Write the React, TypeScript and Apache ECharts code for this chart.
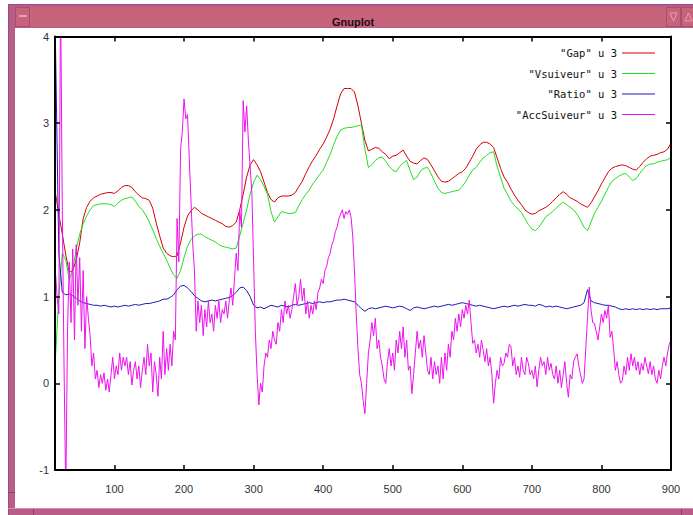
import React, { useEffect, useRef } from "react";
import * as echarts from "echarts";

// Sampling grids: x = X_START + i * step
const X_START = 15;
const X_STEP = 5;
const ACC_STEP = 2.5;

const xTickValues = [100, 200, 300, 400, 500, 600, 700, 800, 900];

const gapValues = [
  2.2, 1.95, 1.72, 1.48, 1.28, 1.3, 1.42, 1.62, 1.9, 2.03,
  2.1, 2.14, 2.16, 2.18, 2.19, 2.2, 2.2, 2.19, 2.22, 2.26,
  2.28, 2.28, 2.26, 2.21, 2.17, 2.14, 2.13, 2.11, 2.02, 1.85,
  1.7, 1.56, 1.5, 1.47, 1.46, 1.47, 1.62, 1.8, 1.93, 1.99,
  2.03, 2.0, 1.96, 1.94, 1.92, 1.9, 1.88, 1.86, 1.84, 1.81,
  1.8, 1.82, 1.86, 2.0, 2.18, 2.38, 2.52, 2.58, 2.52, 2.44,
  2.32, 2.2, 2.12, 2.09, 2.14, 2.16, 2.16, 2.16, 2.17, 2.2,
  2.27, 2.33, 2.42, 2.5, 2.57, 2.63, 2.7, 2.76, 2.84, 2.93,
  3.05, 3.2, 3.34, 3.4, 3.4, 3.4, 3.36, 3.2, 3.0, 2.8,
  2.68, 2.7, 2.72, 2.71, 2.67, 2.64, 2.59, 2.62, 2.63, 2.66,
  2.69, 2.62, 2.56, 2.54, 2.53, 2.57, 2.6, 2.58, 2.52, 2.45,
  2.38, 2.33, 2.32, 2.33, 2.36, 2.39, 2.42, 2.44, 2.48, 2.55,
  2.62, 2.7, 2.75, 2.78, 2.78, 2.76, 2.72, 2.6, 2.48, 2.38,
  2.32, 2.24, 2.17, 2.11, 2.06, 2.0, 1.97, 1.95, 1.96, 1.99,
  2.01, 2.03, 2.06, 2.1, 2.14, 2.18, 2.21, 2.18, 2.14, 2.12,
  2.1, 2.07, 2.05, 2.03, 2.08, 2.15, 2.22, 2.3, 2.37, 2.44,
  2.48, 2.5, 2.51, 2.52, 2.51, 2.49, 2.47, 2.46, 2.5, 2.55,
  2.59, 2.62, 2.63, 2.64, 2.66, 2.67, 2.7, 2.77,
];

const vsuiveurValues = [
  0.27, 1.0, 1.5, 1.42, 1.2, 1.3, 1.55, 1.72, 1.84, 1.93,
  2.0, 2.05, 2.06, 2.07, 2.07, 2.07, 2.06, 2.04, 2.08, 2.11,
  2.13, 2.14, 2.15, 2.1, 2.04, 2.0, 1.94, 1.86, 1.77, 1.67,
  1.58, 1.5, 1.42, 1.33, 1.25, 1.21, 1.3, 1.45, 1.58, 1.66,
  1.7, 1.72, 1.72, 1.69, 1.67, 1.65, 1.63, 1.6, 1.58, 1.57,
  1.56, 1.55, 1.56, 1.7, 1.85, 2.0, 2.18, 2.32, 2.4, 2.35,
  2.27, 2.18, 1.98, 1.86, 1.92, 1.98, 1.97, 1.96, 1.96, 1.97,
  2.05, 2.12, 2.18, 2.23, 2.3, 2.35, 2.41, 2.46, 2.55, 2.64,
  2.75, 2.85, 2.92, 2.94, 2.95, 2.95, 2.96, 2.97, 2.98, 2.7,
  2.49, 2.52, 2.57, 2.6, 2.61, 2.56, 2.5, 2.46, 2.44, 2.5,
  2.54, 2.57, 2.45, 2.35, 2.38, 2.45, 2.48, 2.49, 2.42, 2.33,
  2.25, 2.2, 2.19, 2.2, 2.21, 2.22, 2.23, 2.27, 2.33, 2.4,
  2.46, 2.49, 2.55, 2.6, 2.63, 2.66, 2.67, 2.5, 2.38, 2.25,
  2.18, 2.1, 2.05, 2.01, 1.97, 1.9, 1.83, 1.78, 1.76, 1.8,
  1.86, 1.92, 1.95, 1.98, 2.02, 2.06, 2.09, 2.06, 2.03, 2.0,
  1.95, 1.88, 1.8, 1.76, 1.86, 1.96, 2.03, 2.1, 2.18, 2.26,
  2.33, 2.36, 2.39, 2.41, 2.42, 2.38, 2.34, 2.36, 2.42, 2.47,
  2.51, 2.53, 2.53, 2.55, 2.56, 2.57, 2.58, 2.6,
];

const ratioValues = [
  4.0, 1.5, 1.05, 1.02, 1.03, 1.01, 0.98, 0.95, 0.93, 0.92,
  0.91, 0.9, 0.9, 0.89, 0.9, 0.89, 0.88, 0.89, 0.88, 0.89,
  0.9, 0.89, 0.9, 0.91, 0.9, 0.91, 0.92, 0.92, 0.93, 0.94,
  0.95, 0.97, 0.97, 0.99, 1.02, 1.08, 1.12, 1.13, 1.1, 1.06,
  1.01, 0.98, 0.95, 0.94, 0.95, 0.96, 0.95, 0.96, 0.97, 0.98,
  0.99, 1.01, 1.05, 1.1, 1.11, 1.07, 1.0, 0.9, 0.87, 0.88,
  0.86, 0.88, 0.9, 0.89, 0.88, 0.9, 0.89, 0.88, 0.9, 0.91,
  0.9, 0.91, 0.92, 0.93, 0.92, 0.93, 0.94, 0.93, 0.94, 0.94,
  0.95, 0.96, 0.96, 0.97, 0.96, 0.95, 0.94, 0.9, 0.86, 0.83,
  0.86, 0.87, 0.86, 0.87, 0.88, 0.89, 0.88, 0.87, 0.88, 0.89,
  0.88, 0.86, 0.84, 0.87, 0.88, 0.87, 0.86, 0.87, 0.88, 0.89,
  0.88, 0.89, 0.9, 0.91, 0.9, 0.91, 0.92, 0.93, 0.92, 0.91,
  0.9, 0.89, 0.9, 0.89, 0.88, 0.87, 0.86, 0.87, 0.88, 0.89,
  0.88, 0.89, 0.9, 0.89, 0.9, 0.91, 0.9, 0.9, 0.89, 0.91,
  0.9, 0.88, 0.89, 0.88, 0.89, 0.88, 0.87, 0.86, 0.87, 0.88,
  0.89, 0.9, 0.93, 1.08, 0.95, 0.93, 0.92, 0.91, 0.9, 0.9,
  0.89, 0.88, 0.86, 0.85, 0.86, 0.85, 0.86, 0.85, 0.86, 0.85,
  0.86, 0.85, 0.86, 0.85, 0.86, 0.86, 0.86, 0.87,
];

// sampled every 2.5 from x = 15
const accSuiveurValues = [
  1.3, 1.0, 0.8, 4.5, 2.0, 0.2, -1.3, 0.6, 1.4, 0.7, 1.55, 0.5, 1.6, 0.9, 1.45, 0.6, 1.3, 0.4, 1.0, 0.75,
  0.55, 0.2, 0.35, 0.05, 0.15, -0.05, 0.1, 0.0, 0.12, -0.08, 0.05, -0.1, 0.1, 0.3, 0.05, 0.2, 0.1, 0.35, 0.15, 0.3,
  0.2, 0.3, 0.1, 0.25, -0.02, 0.15, 0.25, 0.05, 0.2, -0.05, 0.15, 0.3, 0.1, 0.45, 0.2, 0.35, -0.1, 0.25, 0.1, -0.15,
  0.3, 0.05, 0.6, 0.1, 0.4, 0.15, 0.45, 0.2, 0.6, 0.5, 1.9, 1.4, 2.7, 2.9, 3.28, 3.05, 3.1, 2.6, 2.1, 1.6,
  1.3, 0.6, 0.95, 0.7, 0.9, 0.55, 0.85, 0.65, 0.95, 0.7, 0.8, 0.6, 0.9, 0.75, 0.95, 0.7, 0.85, 0.8, 0.95, 0.75,
  0.95, 1.1, 0.9, 1.2, 1.5, 1.3, 2.0, 1.8, 3.26, 2.9, 3.2, 2.8, 2.5, 2.2, 1.4, 0.6, 0.1, -0.25, 0.0, -0.1,
  0.2, 0.35, 0.3, 0.5, 0.4, 0.6, 0.5, 0.45, 0.7, 0.6, 0.85, 0.7, 0.95, 0.8, 0.9, 0.75, 0.85, 1.0, 1.15, 0.9,
  1.0, 1.2, 0.95, 1.1, 0.8, 0.95, 0.75, 0.9, 0.8, 0.95, 0.85, 1.05, 1.1, 1.2, 1.15, 1.3, 1.35, 1.45, 1.5, 1.6,
  1.65, 1.75, 1.8, 1.9, 1.95, 2.0, 1.9, 1.98, 1.95, 2.0, 1.92, 1.7, 1.3, 0.8, 0.4, 0.1, 0.0, -0.2, -0.35, 0.0,
  0.35, 0.5, 0.7, 0.55, 0.75, 0.4, 0.5, 0.3, 0.2, 0.05, 0.0, 0.25, 0.4, 0.2, 0.35, 0.15, 0.5, 0.35, 0.6, 0.4,
  0.65, 0.3, 0.5, 0.15, 0.2, -0.12, 0.1, 0.35, 0.6, 0.4, 0.5, 0.3, 0.55, 0.35, 0.15, 0.1, 0.3, 0.05, 0.25, 0.1,
  0.2, 0.0, 0.3, 0.05, 0.35, 0.15, 0.45, 0.3, 0.6, 0.5, 0.75, 0.6, 0.8, 0.65, 0.85, 0.75, 0.9, 0.8, 0.96, 0.7,
  0.46, 0.5, 0.35, 0.45, 0.3, 0.5, 0.38, 0.25, 0.4, 0.2, 0.3, 0.1, -0.23, 0.0, 0.15, 0.05, 0.3, 0.2, 0.23, 0.35,
  0.3, 0.45, 0.42, 0.2, 0.3, 0.1, 0.2, 0.07, 0.3, 0.15, 0.1, 0.3, 0.23, 0.1, 0.15, 0.05, 0.2, -0.04, 0.15, 0.3,
  0.2, 0.25, 0.1, 0.3, 0.15, 0.23, 0.1, 0.05, 0.2, 0.0, 0.15, -0.05, 0.1, 0.25, 0.0, -0.16, 0.1, 0.05, 0.25, 0.3,
  0.34, 0.2, 0.1, 0.0, 0.05, 0.4, 0.76, 1.11, 0.85, 0.7, 0.69, 0.6, 0.5, 0.65, 0.8, 0.7, 0.84, 0.75, 0.9, 0.53,
  0.6, 0.4, 0.15, 0.25, 0.1, 0.0, 0.03, 0.2, 0.1, 0.3, 0.15, 0.34, 0.2, 0.3, 0.15, 0.25, 0.1, 0.23, 0.15, 0.3,
  0.2, 0.11, 0.25, 0.1, 0.2, 0.05, 0.0, 0.15, 0.05, 0.2, 0.3, 0.2, 0.35, 0.45, 0.5,
];

const seriesNames = ['"Gap" u 3', '"Vsuiveur" u 3', '"Ratio" u 3', '"AccSuiveur" u 3'];
const seriesColors = ["#d40000", "#22dd22", "#1a1ab4", "#ee11ee"];

const toPoints = (vals: number[], step: number) => vals.map((v, i) => [X_START + i * step, v]);

const FRAME = "#b75d88";
const BAR = "#c8637c";
const DARK = "#8e3f76";

const box = (left: number, top: number, width: number, height: number, extra: React.CSSProperties = {}) => ({
  position: "absolute" as const,
  left,
  top,
  width,
  height,
  boxSizing: "border-box" as const,
  ...extra,
});

export default function App() {
  const ref = useRef<HTMLDivElement>(null);

  useEffect(() => {
    if (!ref.current) return;
    const chart = echarts.init(ref.current, undefined, { renderer: "svg" });
    const axisFont = "Liberation Sans, Arial, sans-serif";
    const seriesData = [
      toPoints(gapValues, X_STEP),
      toPoints(vsuiveurValues, X_STEP),
      toPoints(ratioValues, X_STEP),
      toPoints(accSuiveurValues, ACC_STEP),
    ];

    const tickStyle = { color: "#000", width: 1.5 };
    const xCommon = {
      type: "value",
      min: 14.5,
      max: 900,
      z: 10,
      splitLine: { show: false },
      axisLine: { show: true, onZero: false, lineStyle: { color: "#000", width: 2 } },
    };
    const yCommon = {
      type: "value",
      min: -1,
      max: 4,
      interval: 1,
      z: 10,
      splitLine: { show: false },
      axisLine: { show: true, onZero: false, lineStyle: { color: "#000", width: 2 } },
    };

    chart.setOption({
      animation: false,
      backgroundColor: "transparent",
      title: {
        text: "Gnuplot",
        left: 327,
        top: 11,
        textStyle: { fontSize: 11, fontWeight: "bold", color: "#1c0c14", fontFamily: axisFont },
      },
      legend: {
        data: seriesNames,
        orient: "vertical",
        right: 33,
        top: 41,
        align: "right",
        icon: "rect",
        itemWidth: 33,
        itemHeight: 1.2,
        itemGap: 6.5,
        selectedMode: false,
        textStyle: {
          fontFamily: "DejaVu Sans Mono, Liberation Mono, monospace",
          fontSize: 10.5,
          lineHeight: 14,
          color: "#111111",
        },
      },
      grid: {
        left: 55,
        right: 22,
        top: 36.5,
        bottom: 45,
        show: false,
      },
      xAxis: [
        {
          ...xCommon,
          position: "bottom",
          axisTick: { show: true, inside: true, length: 5, lineStyle: tickStyle, customValues: xTickValues },
          axisLabel: {
            customValues: xTickValues,
            margin: 13,
            fontSize: 11,
            color: "#333333",
            fontFamily: axisFont,
          },
        },
        {
          ...xCommon,
          position: "top",
          axisTick: { show: true, inside: true, length: 5, lineStyle: tickStyle, customValues: xTickValues },
          axisLabel: { show: false },
        },
      ],
      yAxis: [
        {
          ...yCommon,
          position: "left",
          axisTick: { show: true, inside: true, length: 5, lineStyle: tickStyle },
          axisLabel: { margin: 6, fontSize: 11, color: "#333333", fontFamily: axisFont },
        },
        {
          ...yCommon,
          position: "right",
          axisTick: { show: true, inside: true, length: 5, lineStyle: tickStyle },
          axisLabel: { show: false },
        },
      ],
      series: seriesNames.map((name, k) => ({
        name,
        type: "line",
        xAxisIndex: 0,
        yAxisIndex: 0,
        symbol: "none",
        clip: true,
        color: seriesColors[k],
        lineStyle: { color: seriesColors[k], width: 1 },
        itemStyle: { color: seriesColors[k] },
        data: seriesData[k],
        z: 2 + k,
      })),
    });

    return () => chart.dispose();
  }, []);

  return (
    <div style={{ position: "fixed", left: 0, top: 0, width: 693, height: 515, overflow: "hidden", background: "#ffffff" }}>
      {/* window frame */}
      <div style={box(8, 4, 700, 520, { background: FRAME, borderTop: "1px solid #9a4a84", borderLeft: "1px solid #9a4a84" })} />
      <div style={box(15, 7, 700, 20, { background: BAR })} />
      <div style={box(15, 7, 15, 20, { background: BAR, border: "1px solid #a8506e" })} />
      <div style={box(19, 15, 8, 2, { background: "#e6a2b4" })} />
      <div style={box(666, 7, 15, 20, { background: BAR, border: "1px solid #a8506e" })} />
      <div style={box(681, 7, 15, 20, { background: BAR, border: "1px solid #a8506e" })} />
      <svg style={box(666, 7, 30, 20)} width={30} height={20}>
        <polygon points="4,6 11,6 7.5,14" fill="none" stroke="#e6a2b4" strokeWidth={1} />
        <polygon points="19,14 26,14 22.5,6" fill="none" stroke="#e6a2b4" strokeWidth={1} />
      </svg>
      <div style={box(15, 28, 700, 480, { background: "#ffffff" })} />
      <div style={box(8, 492, 7, 1, { background: DARK })} />
      <div style={box(33, 508, 1, 10, { background: DARK })} />
      <div style={box(681, 508, 1, 10, { background: DARK })} />
      <div style={box(8, 508, 700, 1, { background: "#d98aa8" })} />
      <div ref={ref} style={{ position: "absolute", left: 0, top: 0, width: 693, height: 515 }} />
    </div>
  );
}
